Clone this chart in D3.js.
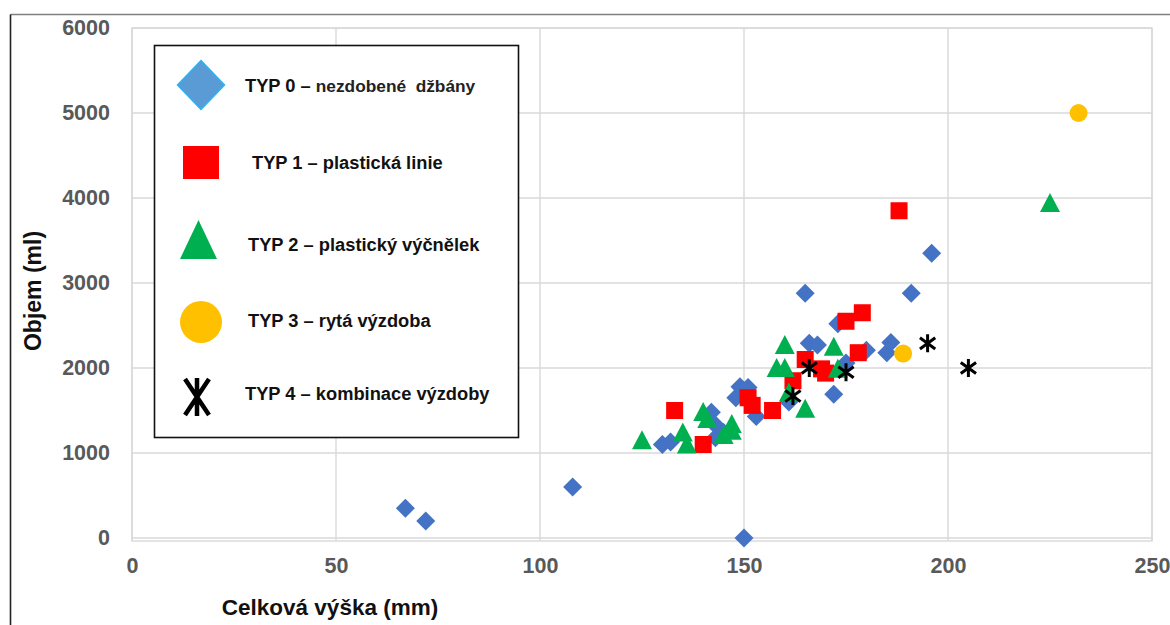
<!DOCTYPE html>
<html><head><meta charset="utf-8">
<script src="https://cdn.jsdelivr.net/npm/d3@7"></script>
<style>
body{margin:0;background:#fff;}
svg{display:block;font-family:"Liberation Sans",Arial,sans-serif;}
</style>
</head><body>
<svg id="chart" width="1170" height="625"></svg>
<script>
// ---- data ----
const xTicks = [0, 50, 100, 150, 200, 250];
const yTicks = [0, 1000, 2000, 3000, 4000, 5000, 6000];
const xTitle = "Celková výška (mm)";
const yTitle = "Objem (ml)";

// TYP 0 – nezdobené džbány  [height mm, volume ml]
const typ0 = [[67,350],[72,200],[108,600],[150,0],[130,1100],[132,1130],[142,1480],[143,1330],
  [143,1180],[145,1240],[148,1650],[149,1780],[151,1770],[153,1430],[161,1600],[165,2880],
  [166,2290],[168,2270],[173,2520],[172,1690],[175,2060],[180,2210],[185,2180],[186,2300],
  [191,2880],[196,3350]];
// TYP 1 – plastická linie
const typ1 = [[133,1500],[140,1100],[151,1650],[152,1560],[157,1500],[162,1850],[165,2100],
  [169,1990],[170,1940],[175,2550],[179,2650],[178,2180],[188,3850]];
// TYP 2 – plastický výčnělek
const typ2 = [[125,1130],[135,1220],[136,1080],[140,1460],[141,1380],[145,1190],[147,1320],
  [147,1240],[158,1980],[160,2250],[160,1980],[161,1690],[165,1500],[172,2230],[173,1970],[225,3920]];
// TYP 3 – rytá výzdoba
const typ3 = [[232,5000],[189,2170]];
// TYP 4 – kombinace výzdoby
const typ4 = [[162,1670],[166,2000],[175,1950],[195,2290],[205,2000]];

const legendMain = ["TYP 0 – ", "TYP 1 – plastická linie", "TYP 2 – plastický výčnělek",
  "TYP 3 – rytá výzdoba", "TYP 4 – kombinace výzdoby"];
const legendExtra = ["nezdobené  džbány", "", "", "", ""];

// ---- drawing ----
const svg = d3.select("#chart");
const L = 132, R = 1152, T = 28, B = 538;
const x = d3.scaleLinear().domain([0, 250]).range([L, R]);
const y = d3.scaleLinear().domain([0, 6000]).range([B, T]);

// outer chart border (partially visible)
svg.append("line").attr("x1", 10.5).attr("x2", 1170).attr("y1", 14.5).attr("y2", 14.5)
  .attr("stroke", "#7f7f7f").attr("stroke-width", 1.3);
svg.append("line").attr("x1", 10.5).attr("x2", 10.5).attr("y1", 14.5).attr("y2", 625)
  .attr("stroke", "#222").attr("stroke-width", 1.6);

// gridlines
const grid = svg.append("g").attr("stroke", "#d9d9d9").attr("stroke-width", 1.4);
grid.selectAll("line.h").data(yTicks).join("line").attr("class", "h")
  .attr("x1", L).attr("x2", R).attr("y1", d => y(d)).attr("y2", d => y(d));
grid.selectAll("line.v").data(xTicks).join("line").attr("class", "v")
  .attr("x1", d => x(d)).attr("x2", d => x(d)).attr("y1", T).attr("y2", B + 3);
svg.append("rect").attr("x", L).attr("y", T).attr("width", R - L).attr("height", B + 3 - T)
  .attr("fill", "none").attr("stroke", "#d9d9d9").attr("stroke-width", 1.4);

// axes labels via d3 axes
const yAxis = svg.append("g").attr("transform", `translate(${L},0)`)
  .call(d3.axisLeft(y).tickValues(yTicks).tickSize(0).tickPadding(22).tickFormat(d3.format("d")));
const xAxis = svg.append("g").attr("transform", `translate(0,${B + 3})`)
  .call(d3.axisBottom(x).tickValues(xTicks).tickSize(0).tickPadding(17).tickFormat(d3.format("d")));
[yAxis, xAxis].forEach(a => {
  a.select(".domain").remove();
  a.selectAll("text").attr("font-family", "Liberation Sans, Arial, sans-serif")
    .attr("font-size", 21.5).attr("font-weight", "bold").attr("fill", "#595959");
});

// axis titles
svg.append("text").attr("x", 330).attr("y", 615).attr("text-anchor", "middle")
  .attr("font-size", 22.5).attr("font-weight", "bold").attr("fill", "#111").text(xTitle);
svg.append("text").attr("transform", "translate(41,291) rotate(-90)").attr("text-anchor", "middle")
  .attr("font-size", 23).attr("font-weight", "bold").attr("fill", "#111").text(yTitle);

// marker generators (centered at 0,0)
function diamondPath(w, h) { return `M0,${-h}L${w},0L0,${h}L${-w},0Z`; }
function trianglePath(w, h) { return `M0,${-h*0.62}L${w},${h*0.38}L${-w},${h*0.38}Z`; }
function starPath(s) {
  const a = s * 0.85, b = s * 0.62;
  return `M0,${-s}L0,${s}M${-a},${-b}L${a},${b}M${a},${-b}L${-a},${b}`;
}

const plot = svg.append("g");
plot.selectAll("path.t0").data(typ0).join("path").attr("class", "t0")
  .attr("transform", d => `translate(${x(d[0])},${y(d[1])})`)
  .attr("d", diamondPath(9.5, 9.5)).attr("fill", "#4472C4");
plot.selectAll("rect.t1").data(typ1).join("rect").attr("class", "t1")
  .attr("x", d => x(d[0]) - 8.5).attr("y", d => y(d[1]) - 8.5)
  .attr("width", 17).attr("height", 17).attr("fill", "#FF0000");
plot.selectAll("path.t2").data(typ2).join("path").attr("class", "t2")
  .attr("transform", d => `translate(${x(d[0])},${y(d[1])})`)
  .attr("d", trianglePath(10, 19)).attr("fill", "#00B050");
plot.selectAll("circle.t3").data(typ3).join("circle").attr("class", "t3")
  .attr("cx", d => x(d[0])).attr("cy", d => y(d[1])).attr("r", 9).attr("fill", "#FFC000");
plot.selectAll("path.t4").data(typ4).join("path").attr("class", "t4")
  .attr("transform", d => `translate(${x(d[0])},${y(d[1])})`)
  .attr("d", starPath(9)).attr("stroke", "#000").attr("stroke-width", 3).attr("fill", "none");

// legend box
const lg = svg.append("g");
lg.append("rect").attr("x", 154.5).attr("y", 45.5).attr("width", 364).attr("height", 392)
  .attr("fill", "#fff").attr("stroke", "#111").attr("stroke-width", 1.6);
// legend markers
lg.append("path").attr("transform", "translate(201,85)").attr("d", diamondPath(23.5, 24.5))
  .attr("fill", "#5B9BD5").attr("stroke", "#2BB3F3").attr("stroke-width", 1.5);
lg.append("rect").attr("x", 183).attr("y", 146).attr("width", 36).attr("height", 33).attr("fill", "#FF0000");
lg.append("path").attr("d", "M198.5,220L217,259L180,259Z").attr("fill", "#00B050");
lg.append("circle").attr("cx", 201).attr("cy", 322).attr("r", 21).attr("fill", "#FFC000");
lg.append("path").attr("d", "M185,379L209,415M209,379L185,415M197,378L197,416")
  .attr("stroke", "#000").attr("stroke-width", 4.5).attr("fill", "none");

const lgX = [245, 252, 248, 248, 245];
const lgY = [92, 169, 251, 327, 400];
legendMain.forEach((t, i) => {
  const tx = lg.append("text").attr("x", lgX[i]).attr("y", lgY[i])
    .attr("font-size", 18.3).attr("font-weight", "bold").attr("fill", "#111");
  tx.append("tspan").text(t);
  if (legendExtra[i]) tx.append("tspan").attr("font-size", 17.3).attr("fill", "#222")
    .style("white-space", "pre").attr("xml:space", "preserve").text(legendExtra[i]);
});
</script>
</body></html>
